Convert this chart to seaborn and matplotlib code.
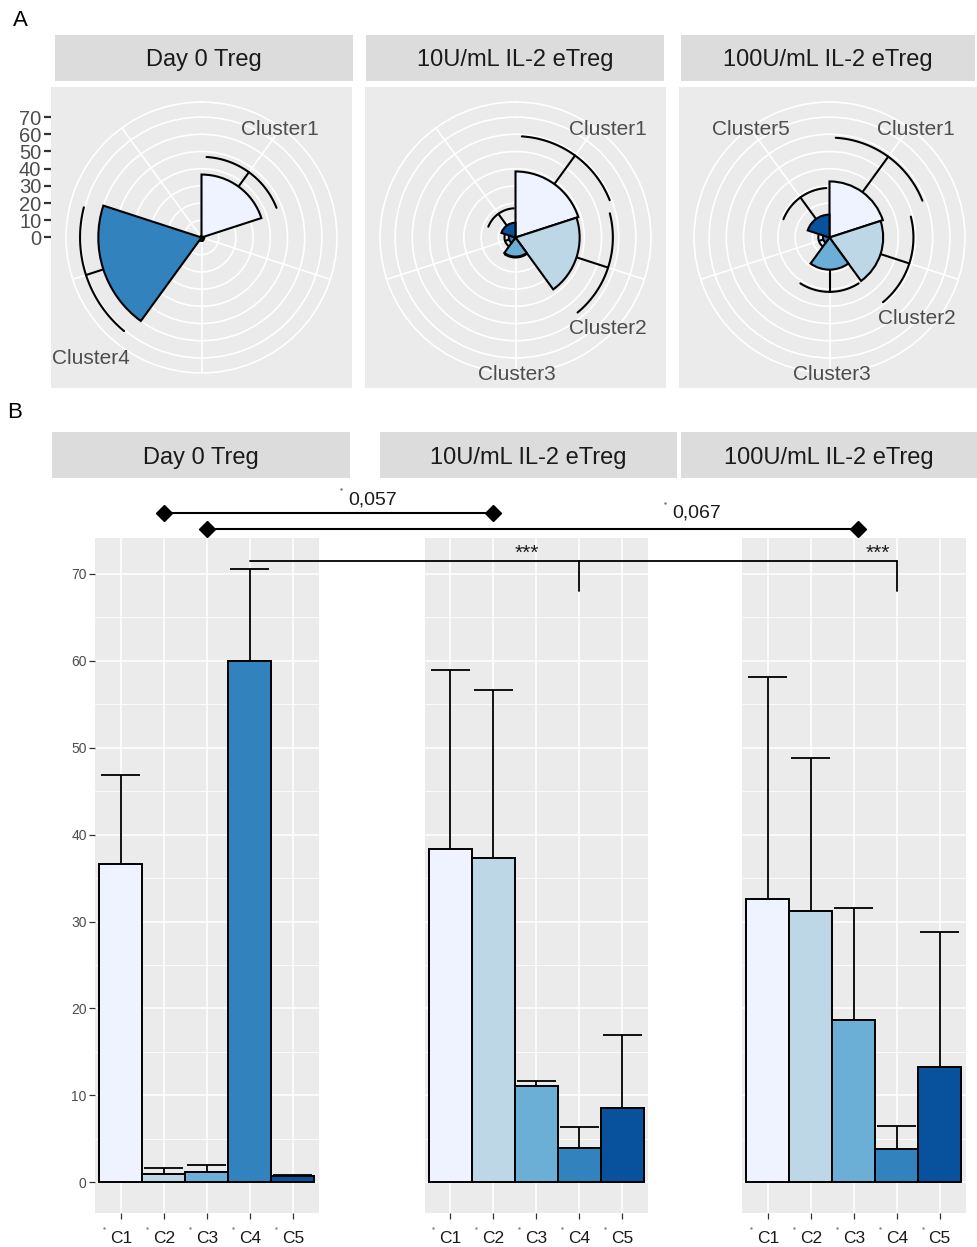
import numpy as np
import pandas as pd
import matplotlib
matplotlib.use("Agg")
import matplotlib.pyplot as plt
from matplotlib.ticker import MultipleLocator
import seaborn as sns

# ---------------- data ----------------
conditions = ["Day 0 Treg", "10U/mL IL-2 eTreg", "100U/mL IL-2 eTreg"]
clusters = ["C1", "C2", "C3", "C4", "C5"]
cluster_names = ["Cluster1", "Cluster2", "Cluster3", "Cluster4", "Cluster5"]
blues = ["#EFF3FF", "#BDD7E7", "#6BAED6", "#3182BD", "#08519C"]

mean_day0 = [36.6, 0.9, 1.2, 60.0, 0.7]
sd_day0 = [10.3, 0.7, 0.8, 10.6, 0.1]
mean_10u = [38.4, 37.3, 11.1, 3.9, 8.6]
sd_10u = [20.5, 19.3, 0.5, 2.5, 8.4]
mean_100u = [32.6, 31.2, 18.7, 3.8, 13.3]
sd_100u = [25.5, 17.6, 12.9, 2.7, 15.5]

means = [mean_day0, mean_10u, mean_100u]
sds = [sd_day0, sd_10u, sd_100u]

# clusters whose names are written around each rose
shown_labels = [["Cluster1", "Cluster4"],
                ["Cluster1", "Cluster2", "Cluster3"],
                ["Cluster5", "Cluster1", "Cluster2", "Cluster3"]]

# significance annotations between conditions
p_labels = ["0,057", "0,067"]
star_label = "***"

# ---------------- style ----------------
sns.set_theme(style="darkgrid", rc={"axes.facecolor": "#EBEBEB",
                                    "grid.color": "white",
                                    "figure.facecolor": "white"})
plt.rcParams["font.family"] = ["Liberation Sans", "DejaVu Sans"]

W, H, DPI = 977, 1247, 100
fig = plt.figure(figsize=(W / DPI, H / DPI), dpi=DPI)

PANEL = "#EBEBEB"
STRIP = "#DCDCDC"
GRAY30 = "#4D4D4D"
DARK = "#1A1A1A"


def rect(x0, y0, x1, y1):
    return [x0 / W, 1 - y1 / H, (x1 - x0) / W, (y1 - y0) / H]


def strip(box, text, ty):
    ax = fig.add_axes(rect(*box))
    ax.set_facecolor(STRIP)
    ax.set_xticks([]); ax.set_yticks([])
    ax.grid(False)
    for s in ax.spines.values():
        s.set_visible(False)
    ax.text(0.5, ty, text, ha="center", va="center", fontsize=17,
            color=DARK, transform=ax.transAxes)


# ---------------- A: rose charts ----------------
R_TOP = 70.0                 # value drawn at 0.4 of the panel width
R_OUT = R_TOP * 0.45 / 0.40  # outer ring
SECTOR = 360 / len(clusters)

rose_boxes = [(51, 87, 352, 388), (365, 87, 666, 388), (679, 87, 980, 388)]
rose_strips = [(55, 35, 353, 81), (366, 35, 664, 81), (681, 35, 975, 81)]
# label placement (angle in degrees clockwise from top, radius in data units)
rose_label_pos = [
    {"Cluster1": (36.1, 77.8), "Cluster4": (222.3, 95.4)},
    {"Cluster1": (40.4, 82.8), "Cluster2": (134.7, 75.5), "Cluster3": (179.6, 79.9)},
    {"Cluster5": (324.0, 77.9), "Cluster1": (38.7, 80.7), "Cluster2": (132.9, 69.4),
     "Cluster3": (179.0, 79.9)},
]

for k in range(3):
    x0, y0, x1, y1 = rose_boxes[k]
    size = x1 - x0
    strip(rose_strips[k], conditions[k], 0.45)

    bg = fig.add_axes(rect(x0, y0, x1, y1))
    bg.set_facecolor(PANEL)
    bg.grid(False)
    for s in bg.spines.values():
        s.set_visible(False)
    half = (size / 2) / (0.4 * size / R_TOP)
    bg.set_xlim(-half, half)
    bg.set_ylim(-half, half)
    bg.set_xticks([])
    if k == 0:
        bg.set_yticks(np.arange(0, 71, 10))
        bg.tick_params(axis="y", left=True, length=5, width=1.6, color="#333333",
                       labelsize=14.5, labelcolor=GRAY30, pad=2)
    else:
        bg.set_yticks([])

    cx, cy = (x0 + x1) / 2, (y0 + y1) / 2
    rr = 0.45 * size
    ax = fig.add_axes(rect(cx - rr, cy - rr, cx + rr, cy + rr), projection="polar")
    ax.set_facecolor("none")
    ax.patch.set_alpha(0)
    ax.set_theta_zero_location("N")
    ax.set_theta_direction(-1)
    ax.set_rlim(0, R_OUT)
    ax.set_rticks(np.arange(10, 71, 10))
    ax.set_yticklabels([])
    ax.set_xticks(np.deg2rad(SECTOR / 2 + SECTOR * np.arange(5)))
    ax.set_xticklabels([])
    ax.tick_params(length=0)
    ax.grid(True, color="white", linewidth=1.2)
    ax.spines["polar"].set_color("white")
    ax.spines["polar"].set_linewidth(1.2)
    ax.set_axisbelow(True)

    m = np.array(means[k]); e = np.array(sds[k])
    starts = np.deg2rad(SECTOR * np.arange(5))
    ax.bar(starts, m, width=np.deg2rad(SECTOR), align="edge", color=blues,
           edgecolor="black", linewidth=1.5, zorder=3)
    for i in range(5):
        c = np.deg2rad(SECTOR * i + SECTOR / 2)
        hw = np.deg2rad(SECTOR * 0.45)
        th = np.linspace(c - hw, c + hw, 60)
        ax.plot(th, np.full_like(th, m[i] + e[i]), color="black", lw=1.5, zorder=2)
        ax.plot([c, c], [m[i], m[i] + e[i]], color="black", lw=1.5, zorder=2)

    for name in shown_labels[k]:
        ang, rad = rose_label_pos[k][name]
        ax.text(np.deg2rad(ang), rad, name, ha="center", va="center",
                fontsize=15, color=GRAY30, clip_on=False, zorder=5)

# ---------------- B: bar charts ----------------
bar_boxes = [(95, 538, 318.6, 1213), (424.5, 538, 648, 1213), (742, 538, 965.5, 1213)]
bar_strips = [(52, 432, 350, 478), (380, 432, 677, 478), (681, 432, 977, 478)]
top = max(max(np.add(m, s)) for m, s in zip(means, sds))
ylim = (-0.05 * top, top * 1.05)

bar_axes = []
for k in range(3):
    strip(bar_strips[k], conditions[k], 0.44)
    ax = fig.add_axes(rect(*bar_boxes[k]))
    df = pd.DataFrame({"cluster": clusters, "mean": means[k], "sd": sds[k]})
    ax.set_axisbelow(True)
    sns.barplot(data=df, x="cluster", y="mean", hue="cluster", palette=blues,
                width=1.0, saturation=1, edgecolor="black", linewidth=1.4,
                legend=False, errorbar=None, ax=ax, zorder=3)
    xs = np.arange(len(clusters))
    ax.vlines(xs, df["mean"], df["mean"] + df["sd"], color="black", lw=1.3, zorder=2)
    ax.hlines(df["mean"] + df["sd"], xs - 0.45, xs + 0.45, color="black", lw=1.3, zorder=2)
    ax.set_xlim(-0.6, 4.6)
    ax.set_ylim(*ylim)
    ax.set_xlabel(""); ax.set_ylabel("")
    ax.yaxis.set_major_locator(MultipleLocator(10))
    ax.yaxis.set_minor_locator(MultipleLocator(5))
    ax.grid(which="major", color="white", linewidth=1.1)
    ax.grid(which="minor", axis="y", color="white", linewidth=0.55)
    for s in ax.spines.values():
        s.set_visible(False)
    ax.tick_params(axis="x", length=4, width=0.9, color="#333333", labelsize=12.5,
                   labelcolor=DARK, pad=9, bottom=True)
    ax.tick_params(axis="y", which="minor", length=0)
    if k == 0:
        ax.tick_params(axis="y", which="major", length=4, width=0.9, color="#333333",
                       labelsize=10, labelcolor=GRAY30, pad=2, left=True)
    else:
        ax.tick_params(axis="y", which="major", length=0, labelleft=False)
    bar_axes.append(ax)

# ---------------- annotations ----------------
ov = fig.add_axes([0, 0, 1, 1], zorder=20)
ov.set_xlim(0, W); ov.set_ylim(H, 0)
ov.axis("off")
ov.patch.set_alpha(0)


def px(ax, x, y):
    return ov.transData.inverted().transform(ax.transData.transform((x, y)))


pos = {c: i for i, c in enumerate(clusters)}

# small marks printed just before each category name
for ax_i in bar_axes:
    for i in range(len(clusters)):
        p = px(ax_i, i, ylim[0])
        ov.plot([p[0] - 17], [p[1] + 15], marker=".", markersize=1.5, color="#888888")

# C2: Day 0 vs 10U
a = px(bar_axes[0], pos["C2"], 77.0)
b = px(bar_axes[1], pos["C2"], 77.0)
ov.plot([a[0], b[0]], [a[1], b[1]], color="black", lw=1.5, marker="D",
        markersize=8.5, markevery=[0, 1])
ov.text(373, 500, p_labels[0], ha="center", va="center", fontsize=14, color=DARK)
ov.plot([341], [489], marker=".", markersize=1.5, color="#777777")

# C3: Day 0 vs 100U
a = px(bar_axes[0], pos["C3"], 75.2)
b = px(bar_axes[2], pos["C3"] + 0.1, 75.2)
ov.plot([a[0], b[0]], [a[1], b[1]], color="black", lw=1.5, marker="D",
        markersize=8.5, markevery=[0, 1])
ov.text(697, 513, p_labels[1], ha="center", va="center", fontsize=14, color=DARK)
ov.plot([665], [503], marker=".", markersize=1.5, color="#777777")

# C4: Day 0 vs 10U and 100U
a = px(bar_axes[0], pos["C4"], 71.5)
b = px(bar_axes[2], pos["C4"], 71.5)
ov.plot([a[0], b[0]], [a[1], b[1]], color="black", lw=1.3)
for ax_i in (bar_axes[1], bar_axes[2]):
    t = px(ax_i, pos["C4"], 71.5)
    d = px(ax_i, pos["C4"], 68.0)
    ov.plot([t[0], d[0]], [t[1], d[1]], color="black", lw=1.3)
ov.text(527, 553, star_label, ha="center", va="center", fontsize=15, color=DARK)
ov.text(878, 553, star_label, ha="center", va="center", fontsize=15, color=DARK)

# panel tags
ov.text(20, 21, "A", ha="center", va="center", fontsize=16, color="black")
ov.text(15, 413, "B", ha="center", va="center", fontsize=16, color="black")

fig.savefig("out.png", dpi=DPI)
